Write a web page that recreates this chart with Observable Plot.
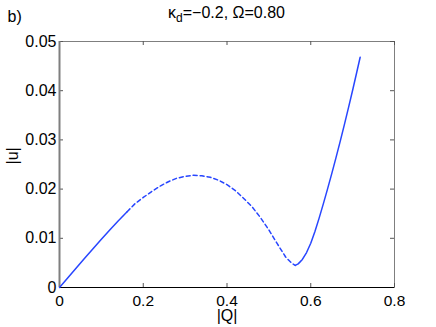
<!DOCTYPE html>
<html><head><meta charset="utf-8">
<script src="https://cdn.jsdelivr.net/npm/d3@7"></script>
<script src="https://cdn.jsdelivr.net/npm/@observablehq/plot@0.6"></script>
<style>body{margin:0;background:#fff;}</style>
</head><body><div id="chart"></div>
<script>
// stable branch (solid), low-Q part
const solid1Q = [0, 0.02, 0.04, 0.06, 0.08, 0.10, 0.12, 0.14, 0.1615];
const solid1U = [0, 0.00200, 0.00398, 0.00594, 0.00788, 0.00980, 0.01168, 0.01352, 0.01540];
// unstable branch (dashed)
const dashQ = [0.1615, 0.18, 0.20, 0.22, 0.24, 0.26, 0.28, 0.30, 0.32, 0.34, 0.36, 0.38, 0.40, 0.42, 0.44, 0.46, 0.48, 0.50, 0.52, 0.54, 0.555, 0.563];
const dashU = [0.0154, 0.0170, 0.0183, 0.0195, 0.0206, 0.0215, 0.0222, 0.0226, 0.0228, 0.0227, 0.0224, 0.0218, 0.0209, 0.0197, 0.0181, 0.0164, 0.0142, 0.0117, 0.0089, 0.0062, 0.0049, 0.0045];
// stable branch (solid), high-Q part
const solid2Q = [0.563, 0.57, 0.58, 0.59, 0.60, 0.61, 0.62, 0.63, 0.64, 0.65, 0.66, 0.67, 0.68, 0.69, 0.70, 0.71, 0.718];
const solid2U = [0.0045, 0.0048, 0.0057, 0.0071, 0.0090, 0.0114, 0.0141, 0.0170, 0.0200, 0.0231, 0.0263, 0.0296, 0.0330, 0.0365, 0.0401, 0.0438, 0.0468];

const xTicks = [0, 0.2, 0.4, 0.6, 0.8];
const yTicks = [0, 0.01, 0.02, 0.03, 0.04, 0.05];
const titleMain = "κ", titleSub = "d", titleRest = "=−0.2, Ω=0.80";
const panelLabel = "b)";
const xLabel = "|Q|", yLabel = "|u|";

const solid = [
  ...solid1Q.map((q, i) => ({Q: q, u: solid1U[i], seg: "a"})),
  ...solid2Q.map((q, i) => ({Q: q, u: solid2U[i], seg: "b"}))
];
const dashed = dashQ.map((q, i) => ({Q: q, u: dashU[i]}));

const W = 436, H = 327, mL = 59, mR = 42, mT = 41, mB = 40;
const innerH = H - mT - mB, innerW = W - mL - mR, tk = 4;
const font = "'Liberation Sans', Arial, Helvetica, sans-serif";
const blue = "#2846ff", grey = "#7f7f7f";
const fs = 16;

const plot = Plot.plot({
  width: W, height: H,
  marginLeft: mL, marginRight: mR, marginTop: mT, marginBottom: mB,
  style: {fontFamily: font, fontSize: fs + "px", background: "#fff", color: "#000"},
  x: {domain: [0, 0.8]},
  y: {domain: [0, 0.05]},
  marks: [
    Plot.frame({stroke: grey}),
    Plot.tickX(xTicks, {x: d => d, insetTop: innerH - tk, stroke: "#555"}),
    Plot.tickX(xTicks, {x: d => d, insetBottom: innerH - tk, stroke: "#555"}),
    Plot.tickY(yTicks, {y: d => d, insetRight: innerW - tk, stroke: "#555"}),
    Plot.tickY(yTicks, {y: d => d, insetLeft: innerW - tk, stroke: "#555"}),
    Plot.ruleX([0], {stroke: grey, strokeWidth: 2}),
    Plot.ruleY([0], {stroke: "#000"}),
    Plot.axisX(xTicks, {tickSize: 0, tickPadding: 7, tickFormat: d => String(d), label: null, fontSize: 15.5}),
    Plot.axisY(yTicks, {tickSize: 0, tickPadding: 3, tickFormat: d => String(d), label: null, fontSize: fs}),
    Plot.line(solid, {x: "Q", y: "u", z: "seg", stroke: blue, strokeWidth: 1.5}),
    Plot.line(dashed, {x: "Q", y: "u", stroke: blue, strokeWidth: 1.5, strokeDasharray: "4,3"}),
    Plot.text([xLabel], {frameAnchor: "bottom", dy: 33, text: d => d, fontSize: fs}),
    Plot.text([yLabel], {frameAnchor: "left", dx: -47, rotate: -90, text: d => d, fontSize: fs}),
    Plot.text([panelLabel], {frameAnchor: "top-left", dx: -52, dy: -19.5, lineAnchor: "bottom", textAnchor: "start", text: d => d, fontSize: fs})
  ]
});

const svg = d3.select(plot);
const t = svg.append("text")
  .attr("x", mL + innerW / 2).attr("y", 18)
  .attr("text-anchor", "middle")
  .attr("font-family", font).attr("font-size", fs).attr("fill", "#000");
t.append("tspan").text(titleMain);
t.append("tspan").attr("dy", 4).attr("font-size", 12).text(titleSub);
t.append("tspan").attr("dy", -4).text(titleRest);

document.getElementById("chart").appendChild(plot);
</script>
</body></html>
